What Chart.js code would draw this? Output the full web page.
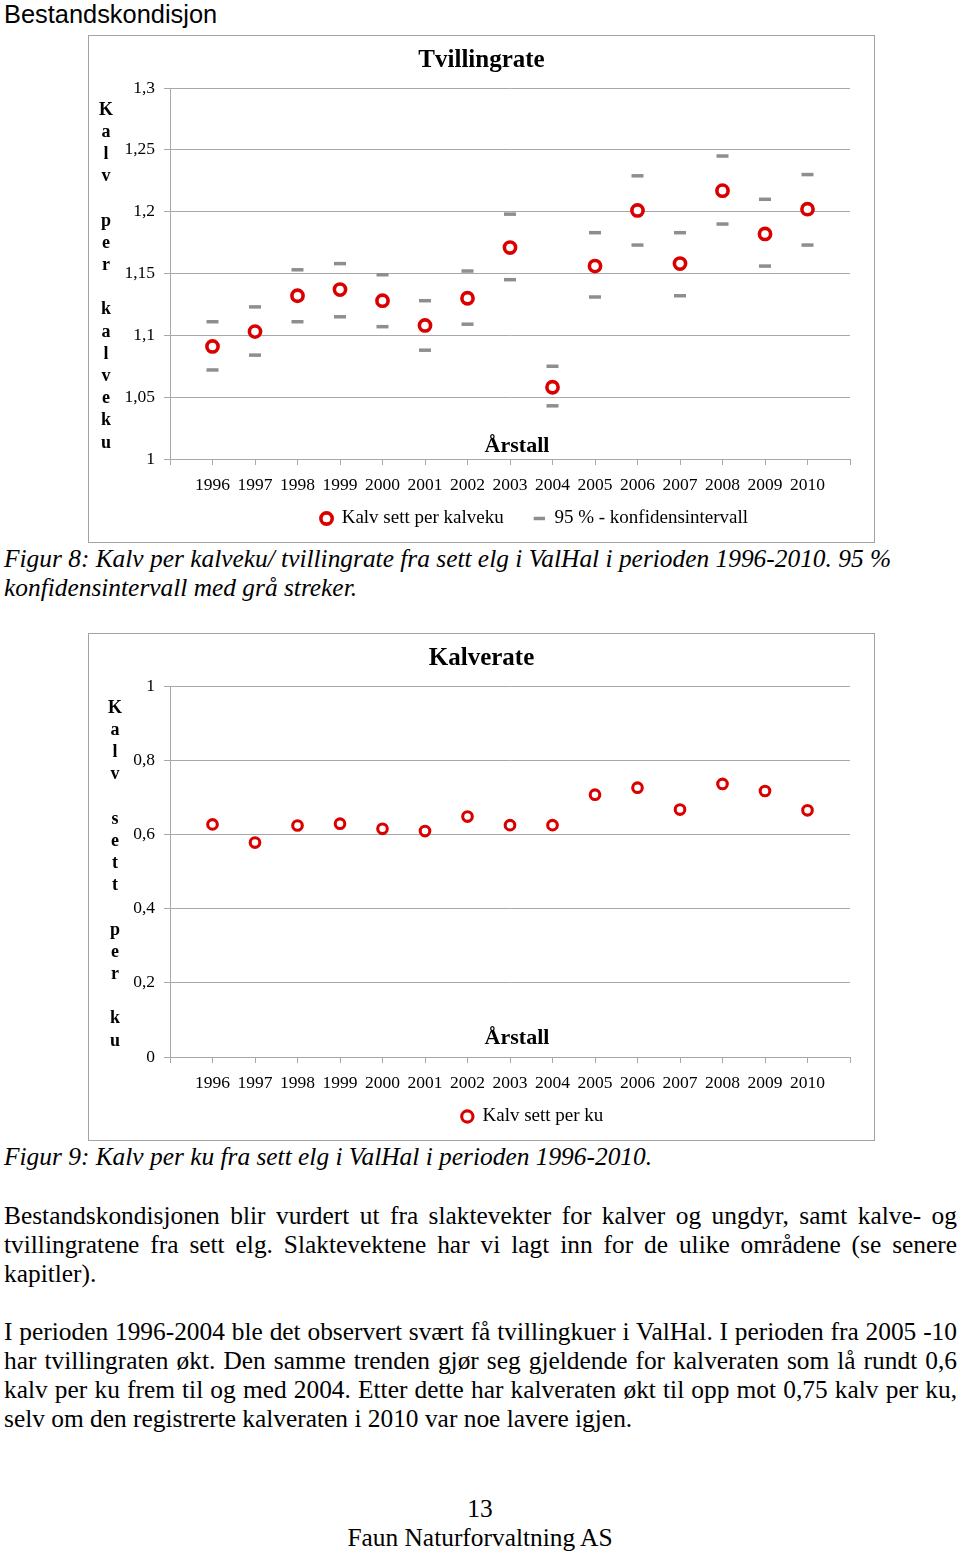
<!DOCTYPE html>
<html><head><meta charset="utf-8">
<script src="https://cdn.jsdelivr.net/npm/chart.js@4.4.1/dist/chart.umd.min.js"></script>
<style>
html,body{margin:0;padding:0;background:#fff;}
body{width:960px;height:1554px;position:relative;overflow:hidden;font-family:"Liberation Serif","Times New Roman",serif;color:#000;}
.t{position:absolute;left:4px;width:953px;font-size:25.4px;line-height:29px;white-space:nowrap;}
.j{text-align:justify;text-align-last:justify;white-space:normal;}
.i{font-style:italic;}
.c{text-align:center;left:0;width:960px;}
.frame{position:absolute;left:88px;width:787px;height:508px;border:1px solid #a3a3a3;box-sizing:border-box;background:#fff;}
.frame canvas{display:block;}
</style></head>
<body>
<div class="t" style="top:0;font-family:'Liberation Sans',Arial,sans-serif;">Bestandskondisjon</div>
<div class="frame" style="top:35px"><canvas id="c1" width="785" height="506"></canvas></div>
<div class="t i" style="top:544px">Figur 8: Kalv per kalveku/ tvillingrate fra sett elg i ValHal i perioden 1996-2010. 95 %</div>
<div class="t i" style="top:573px">konfidensintervall med grå streker.</div>
<div class="frame" style="top:633px"><canvas id="c2" width="785" height="506"></canvas></div>
<div class="t i" style="top:1142px">Figur 9: Kalv per ku fra sett elg i ValHal i perioden 1996-2010.</div>
<div class="t j" style="top:1201px">Bestandskondisjonen blir vurdert ut fra slaktevekter for kalver og ungdyr, samt kalve- og</div>
<div class="t j" style="top:1230px">tvillingratene fra sett elg. Slaktevektene har vi lagt inn for de ulike områdene (se senere</div>
<div class="t" style="top:1259px">kapitler).</div>
<div class="t j" style="top:1317px">I perioden 1996-2004 ble det observert svært få tvillingkuer i ValHal. I perioden fra 2005 -10</div>
<div class="t j" style="top:1346px">har tvillingraten økt. Den samme trenden gjør seg gjeldende for kalveraten som lå rundt 0,6</div>
<div class="t j" style="top:1375px">kalv per ku frem til og med 2004. Etter dette har kalveraten økt til opp mot 0,75 kalv per ku,</div>
<div class="t" style="top:1404px">selv om den registrerte kalveraten i 2010 var noe lavere igjen.</div>
<div class="t c" style="top:1494px">13</div>
<div class="t c" style="top:1523px">Faun Naturforvaltning AS</div>
<script>
// ---- data ----
const years = [1996,1997,1998,1999,2000,2001,2002,2003,2004,2005,2006,2007,2008,2009,2010];
const twinRate = [1.091,1.103,1.132,1.137,1.128,1.108,1.130,1.171,1.058,1.156,1.201,1.158,1.217,1.182,1.202];
const ciUpper  = [1.111,1.123,1.153,1.158,1.149,1.128,1.152,1.198,1.075,1.183,1.229,1.183,1.245,1.210,1.230];
const ciLower  = [1.072,1.084,1.111,1.115,1.107,1.088,1.109,1.145,1.043,1.131,1.173,1.132,1.190,1.156,1.173];
const calfRate = [0.627,0.578,0.624,0.629,0.615,0.609,0.648,0.625,0.625,0.707,0.726,0.667,0.736,0.717,0.665];
const yTicks1 = [1,1.05,1.1,1.15,1.2,1.25,1.3];
const yTicks2 = [0,0.2,0.4,0.6,0.8,1];
const xTickMarks = [1995,1996,1997,1998,1999,2000,2001,2002,2003,2004,2005,2006,2007,2008,2009,2010,2011];
const title1 = 'Tvillingrate', title2 = 'Kalverate';
const yTitle1 = 'Kalv per kalveku', yTitle2 = 'Kalv sett per ku';
const xTitle = 'Årstall';
const label1 = 'Kalv sett per kalveku', labelCI = '95 % - konfidensintervall', label2 = 'Kalv sett per ku';

// ---- rendering ----
const SERIF = '"Liberation Serif","Times New Roman",serif';
const RED = '#da0000', GREY = '#8e8e8e', GRID = '#a8a8a8';
const LEGEND_PAD = 30;
Chart.defaults.font.family = SERIF;
Chart.defaults.color = '#000';

const fmt = v => String(Math.round(v*100)/100).replace('.', ',');

const overlay = {
  id: 'overlay',
  afterLayout(chart, args, o) {
    const lg = chart.legend;
    if (lg) {
      lg.left += o.legendShift; lg.right += o.legendShift;
      lg.top += o.legendLift;
    }
  },
  afterDraw(chart, args, o) {
    const {ctx, chartArea} = chart;
    ctx.save();
    ctx.fillStyle = '#000';
    ctx.textAlign = 'center';
    ctx.textBaseline = 'middle';
    ctx.font = 'bold 18px ' + SERIF;
    const letters = [...o.yTitle];
    const step = 22.2;
    const cy = (chartArea.top + chartArea.bottom) / 2 + 3;
    const y0 = cy - step * (letters.length - 1) / 2;
    letters.forEach((ch, i) => { if (ch !== ' ') ctx.fillText(ch, o.yTitleX, y0 + i * step); });
    ctx.font = 'bold 22px ' + SERIF;
    ctx.fillText(o.xTitle, o.xTitleX, chartArea.bottom - o.xTitleOffset);
    ctx.restore();
  }
};

function makeChart(id, datasets, title, yTicks, yTitle, yTitleX, xTitleOffset, legendShift) {
  return new Chart(document.getElementById(id), {
    type: 'scatter',
    data: { datasets },
    plugins: [overlay],
    options: {
      responsive: false, animation: false, events: [],
      layout: { padding: { left: 24, right: 24, top: 0, bottom: 4 } },
      plugins: {
        tooltip: { enabled: false },
        title: { display: true, text: title, color: '#000',
                 font: { family: SERIF, size: 25, weight: 'bold' },
                 padding: { top: 10, bottom: 12 } },
        legend: { position: 'bottom', maxHeight: 39,
                  labels: { usePointStyle: true, boxHeight: 8, pointStyleWidth: 11.3, padding: LEGEND_PAD, color: '#000',
                            font: { family: SERIF, size: 19 } } },
        overlay: { yTitle, yTitleX, xTitle, xTitleX: 428, xTitleOffset, legendShift, legendLift: 10 - LEGEND_PAD }
      },
      scales: {
        x: {
          type: 'linear', min: xTickMarks[0], max: xTickMarks[xTickMarks.length-1],
          afterBuildTicks: s => { s.ticks = xTickMarks.map(v => ({ value: v })); },
          ticks: { callback: v => years.includes(v) ? String(v) : '', autoSkip: false, maxRotation: 0,
                   padding: 10, color: '#000', font: { family: SERIF, size: 17.5 } },
          grid: { drawOnChartArea: false, drawTicks: true, tickLength: 6, color: GRID },
          border: { color: GRID },
          afterFit: s => { s.height = 40; }
        },
        y: {
          min: yTicks[0], max: yTicks[yTicks.length-1],
          afterBuildTicks: s => { s.ticks = yTicks.map(v => ({ value: v })); },
          ticks: { callback: v => fmt(v), padding: 9, color: '#000', font: { family: SERIF, size: 17.5 } },
          grid: { color: GRID, tickLength: 6 },
          border: { color: GRID },
          afterFit: s => { s.width = 57; }
        }
      }
    }
  });
}

makeChart('c1', [
  { label: label1, data: years.map((x, i) => ({ x, y: twinRate[i] })),
    pointStyle: 'circle', pointRadius: 5.6, pointBorderWidth: 3.6, borderWidth: 3.6,
    pointBorderColor: RED, borderColor: RED, pointBackgroundColor: '#fff', backgroundColor: '#fff' },
  { label: labelCI,
    data: years.flatMap((x, i) => [{ x, y: ciUpper[i] }, { x, y: ciLower[i] }]),
    pointStyle: 'line', pointRadius: 6, pointBorderWidth: 3.5, borderWidth: 3.5,
    pointBorderColor: GREY, borderColor: GREY, backgroundColor: GREY }
], title1, yTicks1, yTitle1, 17, 13, 53);

makeChart('c2', [
  { label: label2, data: years.map((x, i) => ({ x, y: calfRate[i] })),
    pointStyle: 'circle', pointRadius: 4.8, pointBorderWidth: 3.1, borderWidth: 3.1,
    pointBorderColor: RED, borderColor: RED, pointBackgroundColor: '#fff', backgroundColor: '#fff' }
], title2, yTicks2, yTitle2, 26, 19, 51);
</script>
</body></html>
